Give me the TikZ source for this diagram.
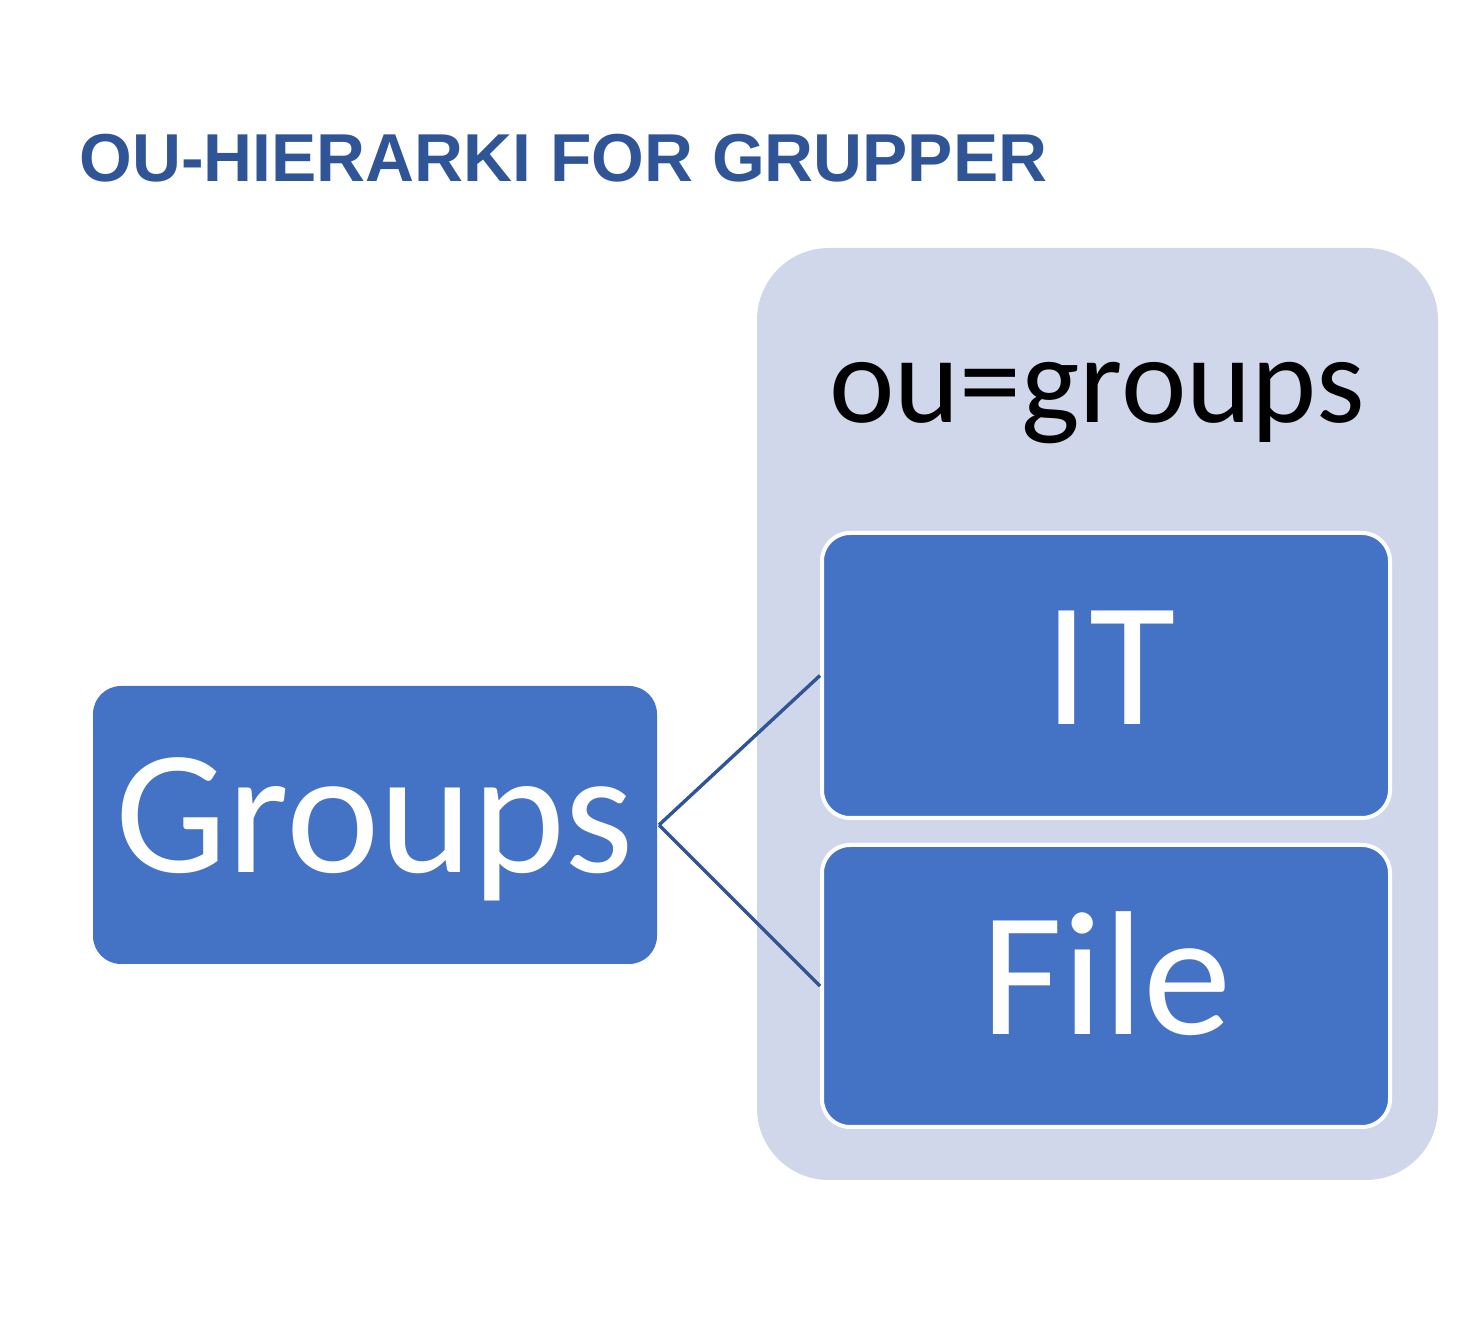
\documentclass[tikz,border=0pt]{standalone}
\usepackage{fontspec}
\setmainfont{Carlito}
\newfontfamily\titlefont{Liberation Sans}
\definecolor{boxblue}{HTML}{4472C4}
\definecolor{lav}{HTML}{D0D7EA}
\definecolor{titleblue}{HTML}{2F5597}
\definecolor{linkblue}{HTML}{2F5597}
\tikzset{
  bluebox/.style={draw=white, line width=2pt, fill=boxblue, rounded corners=14pt, inner sep=0pt},
  groupbox/.style={fill=lav, rounded corners=36pt, inner sep=0pt},
  bigtext/.style={text=white, font=\fontsize{88.5pt}{90pt}\selectfont, inner sep=0pt, anchor=base},
  link/.style={draw=linkblue, line width=1.7pt}
}
\begin{document}
\begin{tikzpicture}[x=0.5pt,y=-0.5pt]
\useasboundingbox (0,0) rectangle (1480,1320);
\node[anchor=base west, inner sep=0pt, text=titleblue, font=\titlefont\bfseries\fontsize{33.9pt}{36pt}\selectfont] (title) at (79,182) {OU-HIERARKI FOR GRUPPER};
\node[groupbox, minimum width=340.5pt, minimum height=466pt] (container) at (1097.5,714) {};
\node[anchor=base, inner sep=0pt, font=\fontsize{62pt}{64pt}\selectfont] (oulabel) at (1097,423) {ou=groups};
\node[bluebox, minimum width=284pt, minimum height=142.5pt] (it) at (1106,675.5) {};
\node[bluebox, minimum width=284pt, minimum height=141pt] (file) at (1106,986) {};
\node[bluebox, draw=none, minimum width=282pt, minimum height=139pt] (groups) at (375,825) {};
\node[bigtext] (ittext) at (1110,725) {IT};
\node[bigtext] (filetext) at (1107,1035) {File};
\node[bigtext] (groupstext) at (375,873) {Groups};
\draw[link] (groups.east) -- (it.west);
\draw[link] (groups.east) -- (file.west);
\end{tikzpicture}
\end{document}
